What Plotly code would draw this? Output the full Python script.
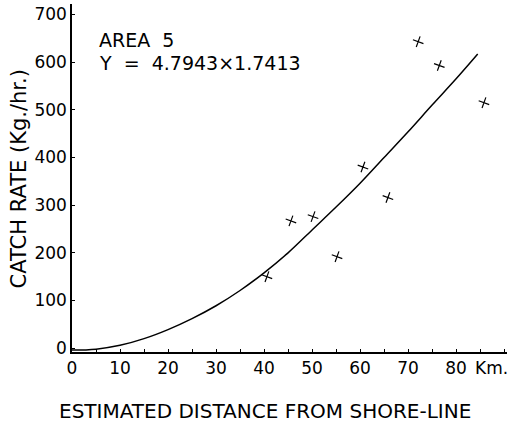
import plotly.graph_objects as go

# Observed data points (distance km, catch rate kg/hr)
obs_x = [40.6, 45.6, 50.2, 55.2, 60.6, 65.8, 72.1, 76.5, 85.8]
obs_y = [150, 267, 276, 192, 380, 316, 643, 593, 515]

# Fitted curve
curve_x = [0, 5, 10, 15, 20, 25, 30, 35, 40, 45, 50, 55, 60, 65, 70, 75, 80, 84.5]
curve_y = [-4, -2, 6, 20, 39, 62, 89, 121, 158, 200, 248, 296, 346, 400, 454, 510, 565, 617]

x_ticks = [0, 10, 20, 30, 40, 50, 60, 70, 80]
x_labels = ["0", "10", "20", "30", "40", "50", "60", "70", "80"]
y_ticks = [0, 100, 200, 300, 400, 500, 600, 700]
y_labels = ["0", "100", "200", "300", "400", "500", "600", "700"]

FONT = "DejaVu Sans, Liberation Sans, Arial, sans-serif"
NB = "\u00a0"

fig = go.Figure()
fig.add_trace(go.Scatter(x=curve_x, y=curve_y, mode="lines",
                         line=dict(color="black", width=1.5, shape="spline"),
                         hoverinfo="skip", showlegend=False))
fig.add_trace(go.Scatter(x=obs_x, y=obs_y, mode="markers",
                         marker=dict(symbol="cross-thin", size=8, angle=20,
                                     line=dict(color="black", width=1.2)),
                         showlegend=False))

fig.update_layout(
    width=512, height=428,
    margin=dict(l=72, r=5, t=4, b=76),
    paper_bgcolor="white", plot_bgcolor="white",
    font=dict(family=FONT, color="black", size=17),
    xaxis=dict(range=[0, 90.6], tickvals=x_ticks, ticktext=x_labels,
               showgrid=False, zeroline=False, showline=True,
               linecolor="black", linewidth=1.5,
               ticks="inside", ticklen=3, tickcolor="black",
               minor=dict(dtick=5, ticks="inside", ticklen=3, tickcolor="black"),
               tickfont=dict(size=17, family=FONT)),
    yaxis=dict(range=[-8, 722], tickvals=y_ticks, ticktext=y_labels,
               showgrid=False, zeroline=False, showline=True,
               linecolor="black", linewidth=1.5,
               ticks="inside", ticklen=3, tickcolor="black",
               tickfont=dict(size=17, family=FONT)),
)

fig.add_annotation(text="CATCH RATE (Kg./hr.)", xref="paper", yref="paper",
                   x=-0.121, y=0.497, textangle=-90, showarrow=False,
                   font=dict(size=21, family=FONT), xanchor="center", yanchor="middle")
fig.add_annotation(text="ESTIMATED DISTANCE FROM SHORE-LINE", xref="paper", yref="paper",
                   x=0.444, y=-0.170, showarrow=False,
                   font=dict(size=20, family=FONT), xanchor="center", yanchor="middle")
fig.add_annotation(text="Km.", xref="paper", yref="paper",
                   x=1.007, y=-0.046, showarrow=False,
                   font=dict(size=17, family=FONT), xanchor="right", yanchor="middle")
fig.add_annotation(text="AREA" + NB * 2 + "5", xref="paper", yref="paper",
                   x=0.057, y=0.897, showarrow=False, xanchor="left", yanchor="middle",
                   font=dict(size=19, family=FONT))
fig.add_annotation(text="Y" + NB * 2 + "=" + NB * 2 + "4.7943×1.7413", xref="paper", yref="paper",
                   x=0.057, y=0.830, showarrow=False, xanchor="left", yanchor="middle",
                   font=dict(size=19, family=FONT))

fig.write_html("out.html", config={"displayModeBar": False},
               post_script="document.body.style.margin='0';")
